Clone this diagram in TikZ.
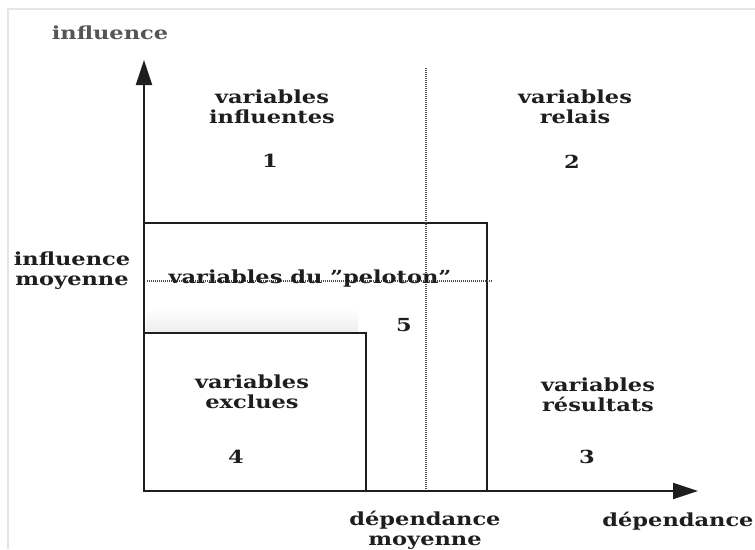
\documentclass[tikz,border=0pt]{standalone}
\usepackage{fontspec}
\setmainfont{DejaVu Serif}[FakeStretch=1.25]
\usetikzlibrary{arrows.meta}
\definecolor{ink}{HTML}{1E1E1E}
\definecolor{dimink}{HTML}{555555}
\tikzset{
  lbl/.style={font=\fontsize{18}{20}\selectfont\bfseries, text=ink, align=center, inner sep=0pt},
  axisline/.style={line width=2.2pt, draw=ink, -{Triangle[length=25pt,width=16pt]}},
  boxline/.style={line width=2pt, draw=ink},
  dotline/.style={line width=1.3pt, draw=ink!80, dash pattern=on 1pt off 1pt},
  frameline/.style={line width=1.2pt, draw=gray!20}
}
\begin{document}
\begin{tikzpicture}[x=1pt,y=-1pt]
\useasboundingbox (0,0) rectangle (755,549);
\fill[white] (0,0) rectangle (755,549);
% faint scan frame
\draw[frameline] (8,549) -- (8,9) -- (755,9);
% smudge
\shade[top color=white, bottom color=gray!14] (146,308) rectangle (358,332);
% coordinates
\coordinate (O) at (144,491);
\coordinate (ytip) at (144,60);
\coordinate (xtip) at (698,491);
\coordinate (bigTR) at (487,223);
\coordinate (smallTR) at (366,333);
\coordinate (vdTop) at (426,68);
\coordinate (vdBot) at (426,491);
\coordinate (hdL) at (147,281);
\coordinate (hdR) at (492,281);
% rectangles
\draw[boxline] (O) rectangle (bigTR);
\draw[boxline] (O) rectangle (smallTR);
% dotted median lines
\draw[dotline] (vdTop) -- (vdBot);
\draw[dotline] (hdL) -- (hdR);
% axes
\draw[axisline] (O) -- (ytip);
\draw[axisline] (O) -- (xtip);
% labels
\node[lbl, text=dimink] (yl) at (110,33) {influence};
\node[lbl] (q1) at (272,107) {variables\\influentes};
\node[lbl] (n1) at (270,161) {1};
\node[lbl] (q2) at (575,107) {variables\\relais};
\node[lbl] (n2) at (572,162) {2};
\node[lbl] (im) at (72,271) {influence\\moyenne};
\node[lbl] (q5) at (310,279) {variables du "peloton"};
\node[lbl] (n5) at (404,325) {5};
\node[lbl] (q4) at (252,392) {variables\\exclues};
\node[lbl] (n4) at (236,457) {4};
\node[lbl] (q3) at (598,395) {variables\\résultats};
\node[lbl] (n3) at (587,457) {3};
\node[lbl] (dm) at (425,530) {dépendance\\moyenne};
\node[lbl] (xl) at (678,521) {dépendance};
\end{tikzpicture}
\end{document}
